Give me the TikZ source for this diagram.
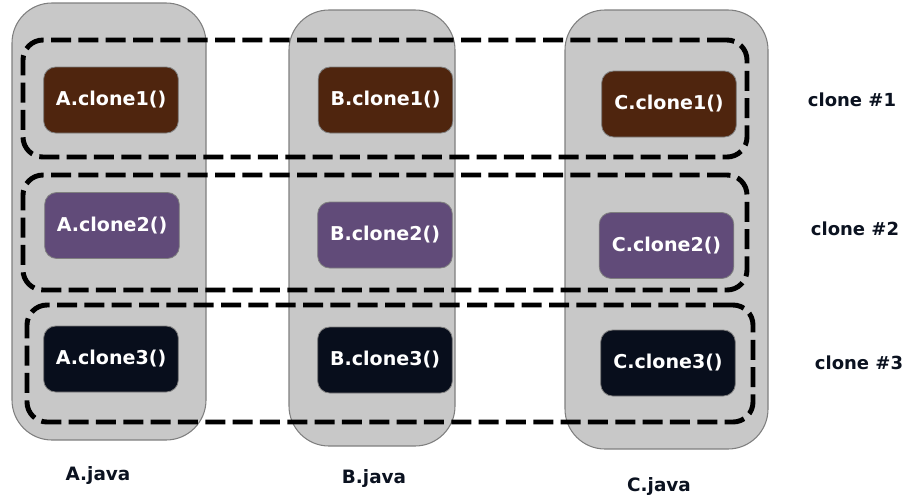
\documentclass[tikz,border=0pt]{standalone}
\usepackage{fontspec}
\setmainfont{DejaVu Sans}
\definecolor{colgray}{HTML}{C8C8C8}
\definecolor{colborder}{HTML}{7F7F7F}
\definecolor{brownbox}{HTML}{4F250E}
\definecolor{purplebox}{HTML}{614B79}
\definecolor{navybox}{HTML}{080E1C}
\definecolor{labeltext}{HTML}{0B1220}
\begin{document}
\begin{tikzpicture}[x=0.75pt,y=-0.75pt,
  column/.style={draw=colborder,fill=colgray,line width=0.8pt,rounded corners=30pt,inner sep=0pt},
  method/.style={draw=colborder,line width=0.6pt,rounded corners=9pt,minimum width=101pt,minimum height=49.5pt,inner sep=0pt,text=white,font=\fontsize{14.3}{16}\selectfont\bfseries},
  bm/.style={method,fill=brownbox},
  pm/.style={method,fill=purplebox},
  nm/.style={method,fill=navybox},
  group/.style={draw=black,line width=3.7pt,dash pattern=on 15pt off 5.5pt,rounded corners=15pt,inner sep=0pt},
  rlabel/.style={text=labeltext,font=\fontsize{13.5}{16}\selectfont\bfseries},
  blabel/.style={text=labeltext,font=\fontsize{13.8}{16}\selectfont\bfseries}]
\useasboundingbox (0,0) rectangle (909,497);
% columns
\node[column,minimum width=145.5pt,minimum height=327.75pt] (colA) at (109,221.5) {};
\node[column,minimum width=124.5pt,minimum height=327pt] (colB) at (372,228) {};
\node[column,minimum width=152.25pt,minimum height=329.25pt] (colC) at (666.5,229.5) {};
% methods
\node[bm] (a1) at (111,100) {A.clone1()};
\node[bm] (b1) at (385.5,100) {B.clone1()};
\node[bm] (c1) at (669,104) {C.clone1()};
\node[pm] (a2) at (112,225.5) {A.clone2()};
\node[pm] (b2) at (385,235) {B.clone2()};
\node[pm] (c2) at (666.5,245.5) {C.clone2()};
\node[nm] (a3) at (111,359) {A.clone3()};
\node[nm] (b3) at (385,360) {B.clone3()};
\node[nm] (c3) at (668,363) {C.clone3()};
% groups
\node[group,minimum width=543pt,minimum height=87.75pt] (g1) at (385,98.5) {};
\node[group,minimum width=543pt,minimum height=86.25pt] (g2) at (385,232.5) {};
\node[group,minimum width=544.5pt,minimum height=87.75pt] (g3) at (390,363.5) {};
% labels
\node[rlabel] (l1) at (852,100) {clone \#1};
\node[rlabel] (l2) at (855,229) {clone \#2};
\node[rlabel] (l3) at (859,363) {clone \#3};
\node[blabel] (ja) at (98,475) {A.java};
\node[blabel] (jb) at (374,478) {B.java};
\node[blabel] (jc) at (659,486) {C.java};
\end{tikzpicture}
\end{document}
